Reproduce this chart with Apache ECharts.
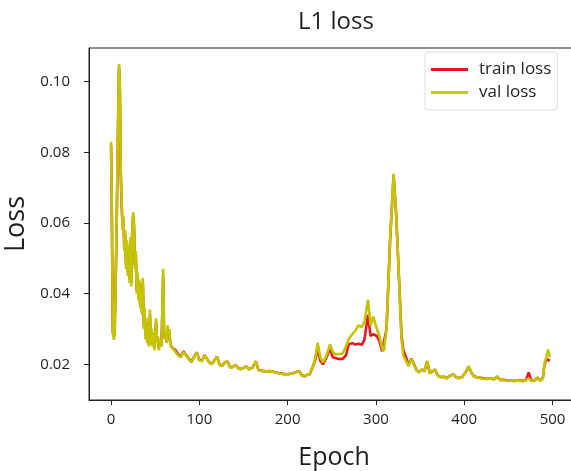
<!DOCTYPE html>
<html>
<head>
<meta charset="utf-8">
<script src="https://cdn.jsdelivr.net/npm/echarts@6/dist/echarts.min.js"></script>
<style>
html,body{margin:0;padding:0;background:#fff;}
#chart{width:571px;height:471px;}
</style>
</head>
<body>
<div id="chart"></div>
<script>
const titleText = "L1 loss";
const xName = "Epoch";
const yName = "Loss";
const seriesNames = ["train loss", "val loss"];
const xTicks = [0, 100, 200, 300, 400, 500];
const yTicks = [0.02, 0.04, 0.06, 0.08, 0.10];

const epochs = [0,1,2,3,4,5,6,7,8,9,10,11,12,13,14,15,16,17,18,19,20,21,22,23,24,25,26,27,28,29,30,31,32,33,34,35,36,37,38,39,40,41,42,43,44,45,46,47,48,49,50,51,52,53,54,55,56,57,58,59,60,61,62,63,64,65,66,67,68,70,73,76,79,82,85,88,91,94,97,100,103,106,108,111,114,117,120,123,126,129,132,135,138,141,144,147,150,153,156,160,164,167,171,175,180,185,190,195,200,205,210,213,216,219,222,225,228,231,234,237,240,244,248,251,254,258,262,266,269,273,277,280,284,287,291,294,297,301,304,307,309,312,316,320,323,326,329,331,334,337,340,343,346,349,352,355,358,361,364,367,370,373,377,380,384,388,391,394,398,402,405,408,411,415,420,425,430,434,437,441,445,448,452,456,460,463,467,470,473,476,480,483,486,489,491,493,495,497];

const valLoss = [0.083,0.060,0.030,0.027,0.028,0.040,0.055,0.072,0.090,0.105,0.098,0.075,0.066,0.058,0.062,0.052,0.058,0.047,0.055,0.045,0.053,0.043,0.056,0.042,0.058,0.063,0.060,0.047,0.052,0.040,0.046,0.038,0.044,0.036,0.041,0.034,0.0445,0.030,0.036,0.027,0.033,0.026,0.031,0.025,0.0355,0.026,0.030,0.025,0.029,0.024,0.028,0.033,0.026,0.028,0.024,0.0235,0.027,0.025,0.035,0.047,0.030,0.027,0.029,0.026,0.031,0.028,0.030,0.026,0.025,0.0245,0.0235,0.0225,0.022,0.0235,0.0225,0.0215,0.0205,0.022,0.0233,0.021,0.0209,0.0225,0.0228,0.0205,0.020,0.021,0.0222,0.0198,0.0195,0.0205,0.0208,0.019,0.0192,0.0198,0.0188,0.0186,0.019,0.0195,0.0185,0.019,0.0209,0.0183,0.0181,0.018,0.0181,0.0178,0.0175,0.0172,0.0172,0.0174,0.0178,0.0181,0.0168,0.0165,0.017,0.0172,0.019,0.0215,0.0261,0.022,0.0205,0.0225,0.0256,0.0235,0.0228,0.0229,0.023,0.025,0.027,0.0285,0.0296,0.031,0.0305,0.032,0.0383,0.031,0.0335,0.030,0.028,0.0245,0.0238,0.030,0.055,0.0739,0.062,0.045,0.027,0.0225,0.021,0.0195,0.0215,0.020,0.0182,0.0177,0.0185,0.018,0.021,0.0174,0.018,0.0186,0.0168,0.0163,0.0165,0.016,0.0168,0.0172,0.0163,0.016,0.0165,0.018,0.0195,0.0178,0.0165,0.0163,0.016,0.0158,0.016,0.0157,0.0167,0.0155,0.0156,0.0153,0.0155,0.0152,0.0154,0.0153,0.0152,0.0155,0.016,0.0153,0.0155,0.0163,0.0153,0.016,0.0205,0.022,0.0242,0.022];

const trainLoss = [0.082,0.059,0.029,0.028,0.029,0.041,0.054,0.071,0.089,0.104,0.097,0.074,0.065,0.059,0.061,0.053,0.057,0.048,0.054,0.046,0.052,0.044,0.055,0.043,0.057,0.062,0.059,0.048,0.051,0.041,0.045,0.039,0.043,0.037,0.040,0.035,0.043,0.031,0.035,0.028,0.032,0.027,0.030,0.0255,0.034,0.0265,0.029,0.0255,0.028,0.0245,0.0275,0.032,0.0265,0.0275,0.0245,0.024,0.0265,0.0252,0.034,0.045,0.029,0.0272,0.028,0.0262,0.030,0.0278,0.029,0.0262,0.0252,0.0245,0.024,0.0228,0.0222,0.0237,0.0226,0.0216,0.0207,0.0221,0.0234,0.0212,0.021,0.0226,0.0229,0.0206,0.0201,0.0211,0.0222,0.0199,0.0196,0.0206,0.0208,0.0191,0.0193,0.0198,0.0189,0.0187,0.019,0.0195,0.0186,0.019,0.0208,0.0184,0.0182,0.018,0.0181,0.0178,0.0175,0.0173,0.0172,0.0174,0.0178,0.0181,0.0169,0.0166,0.017,0.0172,0.019,0.021,0.0243,0.021,0.020,0.022,0.0245,0.022,0.0218,0.0215,0.0215,0.0225,0.0256,0.026,0.0256,0.0258,0.0255,0.027,0.034,0.028,0.0285,0.028,0.0265,0.0237,0.024,0.030,0.055,0.0735,0.062,0.045,0.028,0.024,0.022,0.0198,0.0216,0.0201,0.0183,0.0178,0.0185,0.0181,0.0208,0.0175,0.018,0.0185,0.0169,0.0164,0.0165,0.0161,0.0168,0.0171,0.0163,0.0161,0.0165,0.0179,0.0193,0.0177,0.0166,0.0163,0.0161,0.0159,0.016,0.0158,0.0165,0.0156,0.0156,0.0154,0.0155,0.0153,0.0154,0.0154,0.0153,0.0156,0.0177,0.0154,0.0155,0.0162,0.0154,0.0161,0.020,0.0215,0.021,0.021];

const trainData = epochs.map((e, i) => [e, trainLoss[i]]);
const valData = epochs.map((e, i) => [e, valLoss[i]]);

const FONT = "Open Sans";
const TXT = '#1e1e1e';
const chart = echarts.init(document.getElementById('chart'), null, {renderer: 'canvas'});
chart.setOption({
  backgroundColor: '#ffffff',
  animation: false,
  title: {
    text: titleText,
    left: 331, top: 5, textAlign: 'center',
    textStyle: {fontFamily: FONT, fontSize: 24, fontWeight: 'normal', color: TXT}
  },
  legend: {
    orient: 'vertical',
    left: 425, top: 52,
    padding: [9, 6, 9, 6],
    itemGap: 6,
    itemWidth: 37, itemHeight: 3,
    icon: 'rect',
    borderColor: '#dddddd', borderWidth: 1, borderRadius: 3,
    textStyle: {fontFamily: FONT, fontSize: 17, color: TXT, padding: [0, 0, 0, 6]},
    data: seriesNames
  },
  grid: {
    left: 89, top: 48, width: 490, height: 352,
    outerBoundsMode: 'none', containLabel: false,
    show: true, borderColor: '#222', borderWidth: 1
  },
  xAxis: {
    type: 'value', min: -25, max: 530,
    name: xName, nameLocation: 'middle', nameGap: 45,
    nameTextStyle: {fontFamily: FONT, fontSize: 25, color: TXT},
    splitLine: {show: false},
    axisLine: {show: true, onZero: false, lineStyle: {color: '#222', width: 1}},
    axisTick: {show: true, length: 5, customValues: xTicks, lineStyle: {color: '#222'}},
    axisLabel: {customValues: xTicks, fontFamily: FONT, fontSize: 15, color: TXT, margin: 12}
  },
  yAxis: {
    type: 'value', min: 0.0099, max: 0.1095,
    name: yName, nameLocation: 'middle', nameGap: 54, nameRotate: 90,
    nameTextStyle: {fontFamily: FONT, fontSize: 27, color: TXT},
    splitLine: {show: false},
    axisLine: {show: true, onZero: false, lineStyle: {color: '#222', width: 1}},
    axisTick: {show: true, length: 5, customValues: yTicks, lineStyle: {color: '#222'}},
    axisLabel: {customValues: yTicks, fontFamily: FONT, fontSize: 15, color: TXT, margin: 19,
      formatter: v => v.toFixed(2)}
  },
  series: [
    {name: seriesNames[0], type: 'line', data: trainData, showSymbol: false, symbol: 'none',
     color: '#e8141e', lineStyle: {width: 2.6, color: '#e8141e'}},
    {name: seriesNames[1], type: 'line', data: valData, showSymbol: false, symbol: 'none',
     color: '#c2cc00', lineStyle: {width: 2.6, color: '#c4c400'}}
  ]
});
</script>
</body>
</html>
